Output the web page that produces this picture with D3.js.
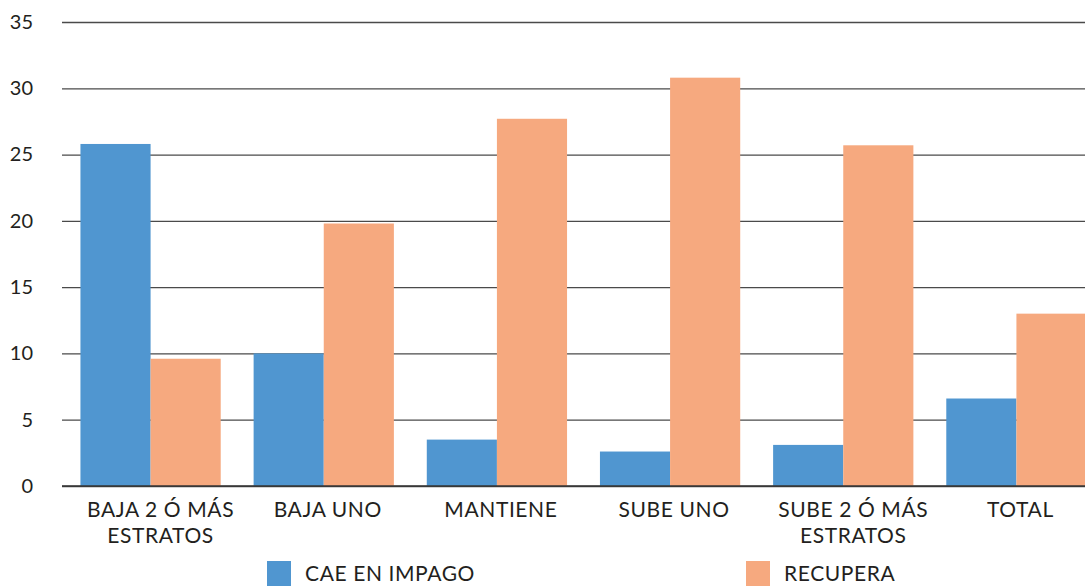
<!DOCTYPE html>
<html>
<head>
<meta charset="utf-8">
<script src="https://cdn.jsdelivr.net/npm/d3@7"></script>
<style>
  html, body { margin: 0; padding: 0; background: #fff; overflow: hidden; }
  svg text { font-family: Lato, "Open Sans", sans-serif; fill: #231f20; }
</style>
</head>
<body>
<svg id="chart" width="1085" height="586"></svg>
<script>
// data
const categories = [["BAJA 2 Ó MÁS", "ESTRATOS"], ["BAJA UNO"], ["MANTIENE"], ["SUBE UNO"], ["SUBE 2 Ó MÁS", "ESTRATOS"], ["TOTAL"]];
const seriesNames = ["CAE EN IMPAGO", "RECUPERA"];
const caeEnImpago = [25.8, 10.0, 3.5, 2.6, 3.1, 6.6];
const recupera = [9.6, 19.8, 27.7, 30.8, 25.7, 13.0];
const yTicks = [0, 5, 10, 15, 20, 25, 30, 35];
const colors = ["#5096d0", "#f6a97f"];

const svg = d3.select("#chart");
const mLeft = 62, mRight = 1103, mTop = 22, mBottom = 486;

const keys = categories.map(c => c.join(" "));
const x0 = d3.scaleBand().domain(keys).range([mLeft + 2, mRight])
    .paddingInner(0.19).paddingOuter(0.095);
const x1 = d3.scaleBand().domain(seriesNames).range([0, x0.bandwidth()]);
const y = d3.scaleLinear().domain([0, 35]).range([mBottom, mTop]);

// gridlines + y labels
const yAxis = d3.axisLeft(y).tickValues(yTicks).tickSize(-(mRight - mLeft)).tickPadding(29);
const gy = svg.append("g").attr("transform", `translate(${mLeft},0)`).call(yAxis);
gy.select(".domain").remove();
gy.selectAll(".tick line").attr("stroke", "#4a4a4a").attr("stroke-width", 1.3);
gy.selectAll(".tick text").attr("font-size", 20).attr("fill", "#231f20");

// bars
const rows = keys.map((k, i) => ({ key: k, values: [caeEnImpago[i], recupera[i]] }));
const groups = svg.append("g").selectAll("g").data(rows).join("g")
    .attr("transform", d => `translate(${x0(d.key)},0)`);
groups.selectAll("rect").data(d => d.values.map((v, j) => ({ name: seriesNames[j], v, j })))
  .join("rect")
    .attr("x", d => x1(d.name))
    .attr("width", x1.bandwidth())
    .attr("y", d => y(d.v))
    .attr("height", d => y(0) - y(d.v))
    .attr("fill", d => colors[d.j]);

// zero line on top
svg.append("line").attr("x1", mLeft).attr("x2", mRight).attr("y1", y(0)).attr("y2", y(0))
    .attr("stroke", "#333").attr("stroke-width", 1.5);

// category labels (two-line ones sit a bit to the right in the original)
const lab = svg.append("g").selectAll("text").data(categories).join("text")
    .attr("x", (d, i) => x0(keys[i]) + x0.bandwidth() / 2 + (d.length > 1 ? 10 : 4))
    .attr("y", 517)
    .attr("text-anchor", "middle")
    .attr("font-size", 21)
    .attr("letter-spacing", 0.6);
lab.selectAll("tspan").data(d => d).join("tspan")
    .attr("x", function() { return this.parentNode.getAttribute("x"); })
    .attr("dy", (d, i) => i === 0 ? 0 : 26)
    .text(d => d);

// legend
const legX = [267, 746];
const leg = svg.append("g").selectAll("g").data(seriesNames).join("g")
    .attr("transform", (d, i) => `translate(${legX[i]},561)`);
leg.append("rect").attr("width", 24).attr("height", 25).attr("fill", (d, i) => colors[i]);
leg.append("text").attr("x", 38).attr("y", 20).attr("font-size", 21)
    .attr("letter-spacing", 0.6).text(d => d);
</script>
</body>
</html>
